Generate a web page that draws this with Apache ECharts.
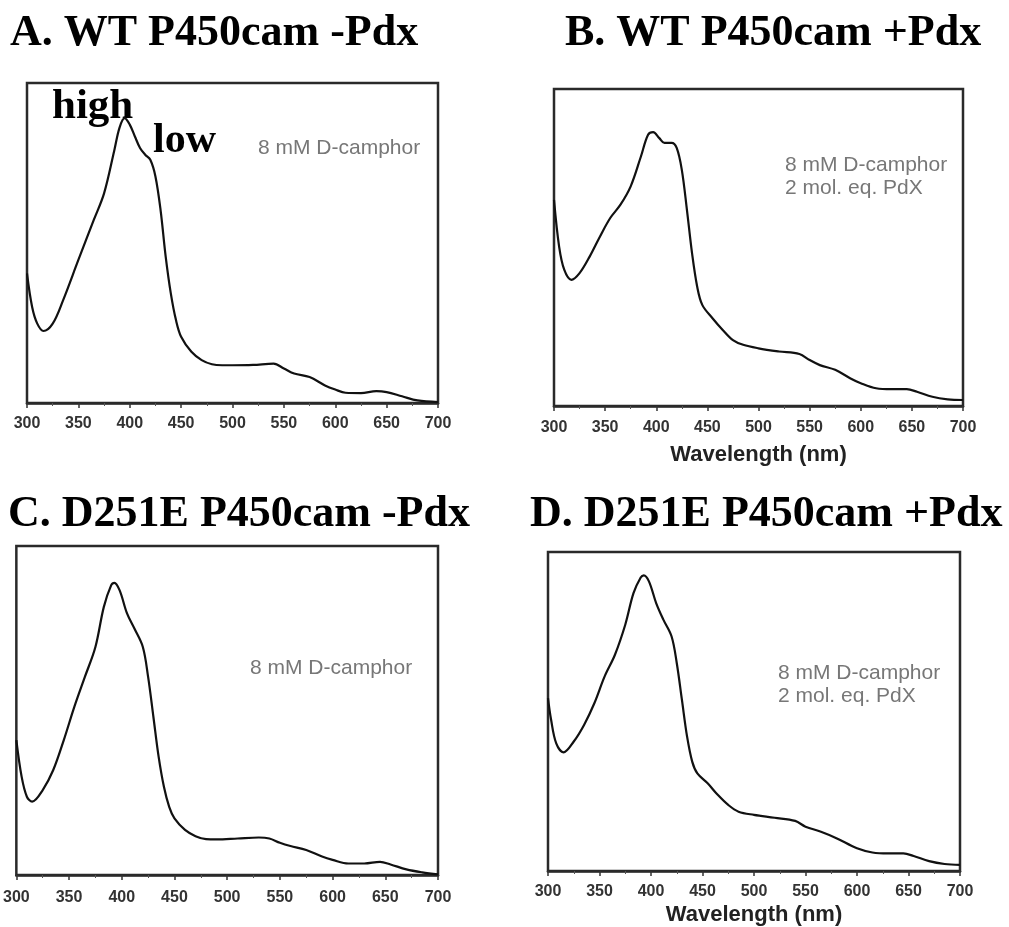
<!DOCTYPE html>
<html>
<head>
<meta charset="utf-8">
<script src="https://cdn.jsdelivr.net/npm/echarts@6/dist/echarts.min.js"></script>
<style>
    html, body {margin: 0; padding: 0; background: #fff;}
    #main {width: 1009px; height: 927px;}
</style>
</head>
<body>
<div id="main"></div>
<script>
    // panel titles
    var panelTitles = ['A. WT P450cam -Pdx', 'B. WT P450cam +Pdx', 'C. D251E P450cam -Pdx', 'D. D251E P450cam +Pdx'];
    var xTicks = [300, 350, 400, 450, 500, 550, 600, 650, 700];

    // A. WT -Pdx
    var wlA = [300, 305, 310, 316, 325, 335, 350, 365, 375, 385, 390, 395, 400, 405, 410, 415, 420, 425, 430, 435, 440, 445, 450, 460, 470, 480, 490, 500, 520, 540, 550, 560, 575, 590, 600, 610, 625, 640, 650, 665, 680, 700];
    var absA = [0.405, 0.30, 0.248, 0.225, 0.248, 0.32, 0.447, 0.572, 0.655, 0.79, 0.86, 0.89, 0.87, 0.833, 0.797, 0.776, 0.76, 0.708, 0.603, 0.457, 0.342, 0.259, 0.207, 0.16, 0.134, 0.121, 0.118, 0.118, 0.119, 0.123, 0.108, 0.092, 0.081, 0.055, 0.042, 0.032, 0.031, 0.037, 0.034, 0.021, 0.008, 0.003];

    // B. WT +Pdx
    var wlB = [300, 305, 310, 317, 325, 335, 345, 355, 365, 375, 385, 392, 397, 403, 408, 415, 420, 425, 430, 435, 440, 445, 455, 465, 475, 485, 500, 520, 540, 550, 560, 575, 590, 600, 615, 630, 645, 655, 670, 685, 700];
    var absB = [0.65, 0.503, 0.43, 0.398, 0.419, 0.472, 0.535, 0.593, 0.635, 0.693, 0.787, 0.856, 0.864, 0.845, 0.83, 0.83, 0.814, 0.745, 0.619, 0.482, 0.377, 0.319, 0.277, 0.24, 0.208, 0.193, 0.182, 0.172, 0.164, 0.145, 0.129, 0.114, 0.087, 0.072, 0.056, 0.053, 0.053, 0.045, 0.029, 0.021, 0.019];

    // C. D251E -Pdx
    var wlC = [300, 305, 310, 315, 325, 335, 345, 355, 365, 375, 383, 390, 393, 398, 405, 412, 420, 425, 430, 435, 440, 445, 450, 460, 470, 480, 490, 510, 530, 540, 550, 560, 575, 590, 600, 615, 630, 645, 655, 670, 685, 700];
    var absC = [0.41, 0.299, 0.238, 0.223, 0.258, 0.319, 0.41, 0.511, 0.602, 0.693, 0.815, 0.881, 0.888, 0.865, 0.795, 0.749, 0.693, 0.602, 0.481, 0.359, 0.268, 0.207, 0.172, 0.137, 0.118, 0.109, 0.108, 0.111, 0.114, 0.111, 0.098, 0.088, 0.076, 0.056, 0.046, 0.035, 0.035, 0.04, 0.032, 0.017, 0.008, 0.002];

    // D. D251E +Pdx
    var wlD = [300, 303, 308, 315, 325, 335, 345, 355, 365, 375, 383, 390, 393, 398, 405, 412, 420, 425, 430, 435, 440, 445, 455, 465, 475, 485, 500, 520, 540, 550, 565, 580, 600, 615, 630, 645, 655, 670, 685, 700];
    var absD = [0.542, 0.474, 0.40, 0.372, 0.406, 0.458, 0.526, 0.61, 0.678, 0.772, 0.871, 0.92, 0.927, 0.908, 0.84, 0.788, 0.735, 0.652, 0.537, 0.422, 0.343, 0.306, 0.275, 0.238, 0.207, 0.186, 0.176, 0.167, 0.157, 0.139, 0.123, 0.103, 0.071, 0.058, 0.055, 0.055, 0.047, 0.031, 0.022, 0.019];

    var noteOne = ['8 mM D-camphor'];
    var noteTwo = ['8 mM D-camphor', '2 mol. eq. PdX'];

    var wls = [wlA, wlB, wlC, wlD];
    var abss = [absA, absB, absC, absD];

    // 各面板位置
    var grids = [
        {left: 27, top: 83, width: 411, height: 320},
        {left: 554, top: 89, width: 409, height: 317},
        {left: 14, top: 546, width: 424, height: 329},
        {left: 548, top: 552, width: 412, height: 319}
    ];
    var xNames = ['', 'Wavelength (nm)', '', 'Wavelength (nm)'];
    var nameGaps = [0, 38, 0, 33];
    var labelMargins = [13, 14, 15, 13];

    function pairs(xs, ys) {
        var out = [];
        for (var i = 0; i < xs.length; i++) {
            out.push([xs[i], ys[i]]);
        }
        return out;
    }

    var option = {
        animation: false,
        backgroundColor: '#fff',
        grid: [],
        xAxis: [],
        yAxis: [],
        series: [],
        graphic: []
    };

    for (var i = 0; i < 4; i++) {
        option.grid.push({
            left: grids[i].left, top: grids[i].top,
            width: grids[i].width, height: grids[i].height,
            show: true, borderColor: '#2a2a2a', borderWidth: 2.5, backgroundColor: '#fff'
        });
        option.xAxis.push({
            type: 'value', gridIndex: i, min: xTicks[0], max: xTicks[xTicks.length - 1], interval: 50,
            name: xNames[i], nameLocation: 'middle', nameGap: nameGaps[i],
            nameTextStyle: {fontFamily: 'Liberation Sans', fontWeight: 'bold', fontSize: 22, color: '#222'},
            axisLine: {show: true, lineStyle: {color: '#2a2a2a', width: 2.5}},
            axisTick: {show: true, inside: false, length: 5, lineStyle: {color: '#333', width: 1.5}},
            minorTick: {show: true, splitNumber: 2, length: 3, lineStyle: {color: '#555', width: 1}},
            axisLabel: {margin: labelMargins[i], fontFamily: 'Liberation Sans', fontWeight: 'bold', fontSize: 16, color: '#333'},
            splitLine: {show: false}
        });
        option.yAxis.push({
            type: 'value', gridIndex: i, min: 0, max: 1,
            axisLine: {show: false}, axisTick: {show: false}, axisLabel: {show: false}, splitLine: {show: false}
        });
        option.series.push({
            type: 'line', xAxisIndex: i, yAxisIndex: i,
            data: pairs(wls[i], abss[i]),
            smooth: 0.35, showSymbol: false,
            lineStyle: {color: '#111', width: 2.2}
        });
    }

    // 标题
    var titlePos = [[10, 12], [565, 12], [8, 493], [530, 493]];
    for (var t = 0; t < 4; t++) {
        option.graphic.push({
            type: 'text', left: titlePos[t][0], top: titlePos[t][1],
            style: {text: panelTitles[t], font: 'bold 44px "Liberation Serif"', fill: '#000'}
        });
    }

    // high / low labels
    option.graphic.push({
        type: 'text', left: 52, top: 85,
        style: {text: 'high', font: 'bold 43px "Liberation Serif"', fill: '#000'}
    });
    option.graphic.push({
        type: 'text', left: 153, top: 120,
        style: {text: 'low', font: 'bold 42px "Liberation Serif"', fill: '#000'}
    });

    // annotations
    var noteStyle = '21px "Liberation Sans"';
    option.graphic.push({
        type: 'text', left: 258, top: 137,
        style: {text: noteOne.join('\n'), font: noteStyle, fill: '#777', lineHeight: 23}
    });
    option.graphic.push({
        type: 'text', left: 785, top: 154,
        style: {text: noteTwo.join('\n'), font: noteStyle, fill: '#777', lineHeight: 23}
    });
    option.graphic.push({
        type: 'text', left: 250, top: 657,
        style: {text: noteOne.join('\n'), font: noteStyle, fill: '#777', lineHeight: 23}
    });
    option.graphic.push({
        type: 'text', left: 778, top: 662,
        style: {text: noteTwo.join('\n'), font: noteStyle, fill: '#777', lineHeight: 23}
    });

    var myChart = echarts.init(document.getElementById('main'));
    myChart.setOption(option);
</script>
</body>
</html>
